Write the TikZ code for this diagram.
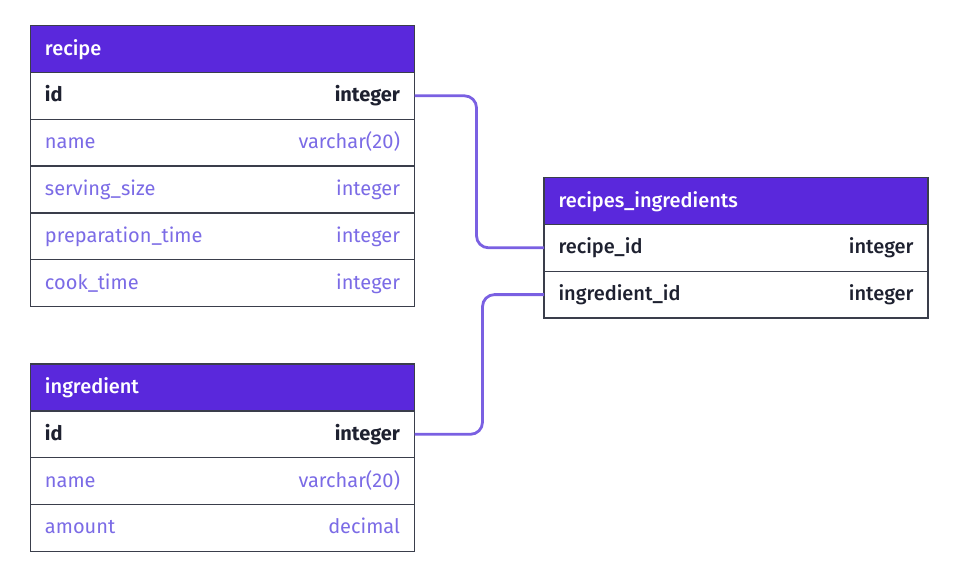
\documentclass[tikz,border=0pt]{standalone}
\usepackage{fontspec}
\setmainfont{Fira Sans}
\newfontfamily\medfont{Fira Sans Medium}
\usetikzlibrary{positioning}

\definecolor{headpurple}{HTML}{5A28DC}
\definecolor{fieldpurple}{HTML}{7B6BE6}
\definecolor{linkpurple}{HTML}{7A60E2}
\definecolor{framegray}{HTML}{3A3E4B}
\definecolor{keydark}{HTML}{1E2130}

\begin{document}
\begin{tikzpicture}[x=1pt,y=-1pt,node distance=0pt,
  row/.style={draw=framegray,line width=1.4pt,fill=white,outer sep=0pt,
    minimum height=46.8pt,inner ysep=0pt,inner xsep=14.5pt,text width=355pt,
    text height=15pt,text depth=3pt,font=\fontsize{20}{22}\selectfont},
  head/.style={row,fill=headpurple,text=white,font=\fontsize{20}{22}\selectfont\medfont},
  key/.style={row,text=keydark,font=\fontsize{20}{22}\selectfont\bfseries},
  joinrow/.style={row,text=keydark,font=\fontsize{20}{22}\selectfont\medfont},
  field/.style={row,text=fieldpurple},
  link/.style={linkpurple,line width=2.8pt,rounded corners=12pt}]
  \useasboundingbox (0,0) rectangle (978,582);

  % recipe table
  \node[head] (recipe) at (222.5,49) {recipe};
  \node[key, below=of recipe] (recipe-id) {id\hfill integer};
  \node[field, below=of recipe-id] (recipe-name) {name\hfill varchar(20)};
  \node[field, below=of recipe-name] (recipe-size) {serving\_size\hfill integer};
  \node[field, below=of recipe-size] (recipe-prep) {preparation\_time\hfill integer};
  \node[field, below=of recipe-prep] (recipe-cook) {cook\_time\hfill integer};

  % ingredient table
  \node[head] (ingr) at (222.5,387.5) {ingredient};
  \node[key, below=of ingr] (ingr-id) {id\hfill integer};
  \node[field, below=of ingr-id] (ingr-name) {name\hfill varchar(20)};
  \node[field, below=of ingr-name] (ingr-amount) {amount\hfill decimal};

  % join table
  \node[head] (ri) at (736,201) {recipes\_ingredients};
  \node[joinrow, below=of ri] (ri-recipe) {recipe\_id\hfill integer};
  \node[joinrow, below=of ri-recipe] (ri-ingr) {ingredient\_id\hfill integer};

  % links
  \draw[link] (recipe-id.east) -- ([xshift=62pt]recipe-id.east) |- (ri-recipe.west);
  \draw[link] (ingr-id.east) -- ([xshift=68pt]ingr-id.east) |- (ri-ingr.west);
\end{tikzpicture}
\end{document}
